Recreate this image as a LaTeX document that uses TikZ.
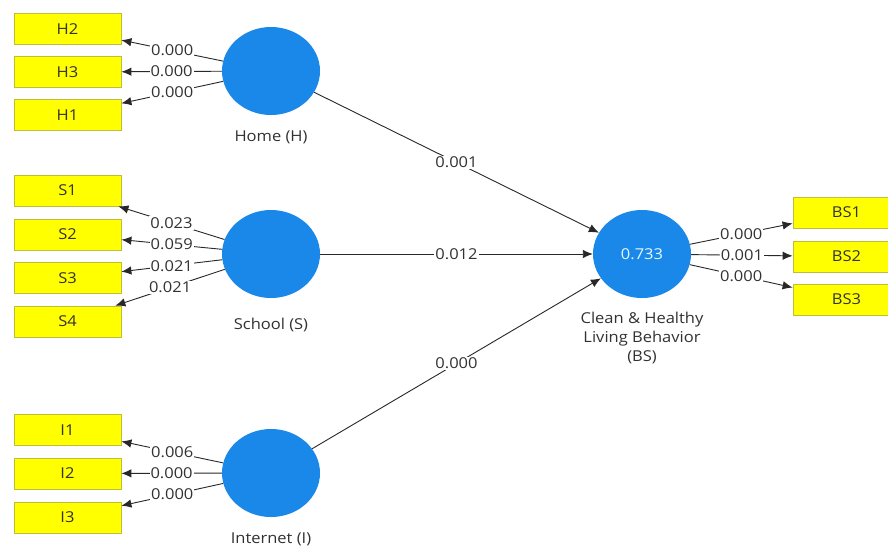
\documentclass[tikz,border=0pt]{standalone}
\usepackage{fontspec}
\setmainfont{Open Sans}[FakeStretch=1.1]
\usetikzlibrary{shapes.geometric,arrows.meta}
\definecolor{boxfill}{RGB}{255,255,0}
\definecolor{boxborder}{RGB}{190,190,60}
\definecolor{lvblue}{RGB}{26,136,232}
\definecolor{linecol}{RGB}{40,40,40}
\definecolor{txt}{RGB}{50,50,50}
\tikzset{
  ind/.style={draw=boxborder, fill=boxfill, line width=0.8pt, minimum width=107pt, minimum height=31pt, inner sep=0pt, text=txt, font=\fontsize{15}{17}\selectfont},
  lv/.style={ellipse, fill=lvblue, minimum width=98pt, minimum height=88pt, inner sep=0pt, text=white!90!cyan, font=\fontsize{15}{17}\selectfont},
  arr/.style={draw=linecol, line width=0.9pt, -{Latex[length=10pt,width=8.5pt]}},
  val/.style={fill=white, inner sep=1pt, text=txt, font=\fontsize{15}{17}\selectfont},
  lvlabel/.style={text=txt, font=\fontsize{15}{19}\selectfont, align=center, inner sep=0pt}
}
\begin{document}
\begin{tikzpicture}[x=1pt,y=-1pt]
\useasboundingbox (0,0) rectangle (888,547);
\fill[white] (0,0) rectangle (888,547);
\clip (0,0) rectangle (888,547);
% indicators
\node[ind] (H2) at (67.5,29) {H2};
\node[ind] (H3) at (67.5,72) {H3};
\node[ind] (H1) at (67.5,115) {H1};
\node[ind] (S1) at (67.5,190.5) {S1};
\node[ind] (S2) at (67.5,234.5) {S2};
\node[ind] (S3) at (67.5,278) {S3};
\node[ind] (S4) at (67.5,321.5) {S4};
\node[ind] (I1) at (67.5,430) {I1};
\node[ind] (I2) at (67.5,473.5) {I2};
\node[ind] (I3) at (67.5,517.5) {I3};
\node[ind] (BS1) at (846.5,212.5) {BS1};
\node[ind] (BS2) at (846.5,256.5) {BS2};
\node[ind] (BS3) at (846.5,299.5) {BS3};
% latent variables
\node[lv] (H) at (271,71) {};
\node[lv] (S) at (271,254) {};
\node[lv] (I) at (271,473) {};
\node[lv] (BS) at (642,254) {0.733};
\node[lvlabel] (Hl) at (271,137) {Home (H)};
\node[lvlabel] (Sl) at (271,325) {School (S)};
\node[lvlabel] (Il) at (271,539) {Internet (I)};
\node[lvlabel, anchor=north] (BSl) at (642,312) {Clean \& Healthy\\Living Behavior\\(BS)};
% outer loadings
\draw[arr] (H) -- node[val] {0.000} (H2);
\draw[arr] (H) -- node[val] {0.000} (H3);
\draw[arr] (H) -- node[val] {0.000} (H1);
\draw[arr] (S) -- node[val] {0.023} (S1);
\draw[arr] (S) -- node[val] {0.059} (S2);
\draw[arr] (S) -- node[val] {0.021} (S3);
\draw[arr] (S) -- node[val] {0.021} (S4);
\draw[arr] (I) -- node[val] {0.006} (I1);
\draw[arr] (I) -- node[val] {0.000} (I2);
\draw[arr] (I) -- node[val] {0.000} (I3);
\draw[arr] (BS) -- node[val] {0.000} (BS1);
\draw[arr] (BS) -- node[val] {0.001} (BS2);
\draw[arr] (BS) -- node[val] {0.000} (BS3);
% structural paths
\draw[arr] (H) -- node[val] {0.001} (BS);
\draw[arr] (S) -- node[val] {0.012} (BS);
\draw[arr] (I) -- node[val] {0.000} (BS);
\end{tikzpicture}
\end{document}
